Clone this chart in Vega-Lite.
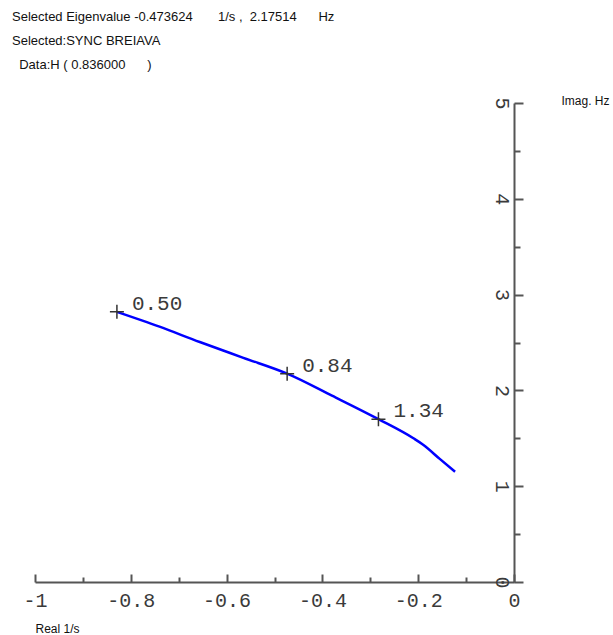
{
  "$schema": "https://vega.github.io/schema/vega-lite/v6.json",
  "width": 479,
  "height": 479,
  "autosize": "none",
  "padding": {"left": 35, "top": 103, "right": 99, "bottom": 53},
  "background": "white",
  "title": {
    "text": "Selected Eigenvalue -0.473624\u00a0\u00a0\u00a0\u00a0\u00a0\u00a0\u00a01/s ,\u00a0\u00a02.17514\u00a0\u00a0\u00a0\u00a0\u00a0\u00a0Hz",
    "subtitle": ["Selected:SYNC BREIAVA", "\u200b\u00a0\u00a0Data:H ( 0.836000\u00a0\u00a0\u00a0\u00a0\u00a0\u00a0)"],
    "anchor": "start",
    "frame": "group",
    "dx": -23,
    "offset": 22,
    "font": "Liberation Sans",
    "fontSize": 13,
    "fontWeight": "normal",
    "color": "#111",
    "subtitleFont": "Liberation Sans",
    "subtitleFontSize": 13,
    "subtitleColor": "#111",
    "subtitlePadding": 11,
    "subtitleLineHeight": 24
  },
  "datasets": {
    "locus": [
      {"re": -0.829, "im": 2.82},
      {"re": -0.74, "im": 2.665},
      {"re": -0.656, "im": 2.505},
      {"re": -0.565, "im": 2.34},
      {"re": -0.4736, "im": 2.175},
      {"re": -0.38, "im": 1.945},
      {"re": -0.283, "im": 1.70},
      {"re": -0.21, "im": 1.50},
      {"re": -0.189, "im": 1.43},
      {"re": -0.155, "im": 1.285},
      {"re": -0.123, "im": 1.15}
    ],
    "marks": [
      {"re": -0.829, "im": 2.82, "label": "0.50"},
      {"re": -0.4736, "im": 2.175, "label": "0.84"},
      {"re": -0.283, "im": 1.70, "label": "1.34"}
    ]
  },
  "encoding": {
    "x": {
      "field": "re",
      "type": "quantitative",
      "scale": {"domain": [-1, 0], "nice": false, "zero": false},
      "axis": {
        "orient": "bottom",
        "values": [-1, -0.9, -0.8, -0.7, -0.6, -0.5, -0.4, -0.3, -0.2, -0.1, 0],
        "labelExpr": "abs(datum.value * 5 - round(datum.value * 5)) < 0.001 ? toString(datum.value) : ''",
        "tickSize": {"condition": {"test": "abs(datum.value * 5 - round(datum.value * 5)) < 0.001", "value": -8}, "value": -5},
        "labelPadding": 16,
        "labelFont": "Liberation Mono",
        "labelFontSize": 20,
        "labelColor": "#3a3a3a",
        "labelFlush": false,
        "labelOverlap": false,
        "grid": false,
        "domainColor": "#555",
        "domainWidth": 2,
        "tickColor": "#555",
        "tickWidth": 2,
        "title": "Real 1/s",
        "titleFont": "Liberation Sans",
        "titleFontSize": 12,
        "titleFontWeight": "normal",
        "titleColor": "#111",
        "titleAnchor": "start",
        "titleAlign": "left",
        "titleBaseline": "alphabetic",
        "titleX": 0,
        "titleY": 50
      }
    },
    "y": {
      "field": "im",
      "type": "quantitative",
      "scale": {"domain": [0, 5], "nice": false, "zero": false},
      "axis": {
        "orient": "left",
        "offset": -479,
        "values": [0, 0.5, 1, 1.5, 2, 2.5, 3, 3.5, 4, 4.5, 5],
        "labelExpr": "datum.value % 1 == 0 ? toString(datum.value) : ''",
        "tickSize": {"condition": {"test": "datum.value % 1 == 0", "value": -9}, "value": -6},
        "labelPadding": 12,
        "labelAngle": 90,
        "labelAlign": "center",
        "labelBaseline": "top",
        "labelFont": "Liberation Mono",
        "labelFontSize": 20,
        "labelColor": "#3a3a3a",
        "labelFlush": false,
        "labelOverlap": false,
        "grid": false,
        "domainColor": "#555",
        "domainWidth": 2,
        "tickColor": "#555",
        "tickWidth": 2,
        "title": "Imag. Hz",
        "titleFont": "Liberation Sans",
        "titleFontSize": 12,
        "titleFontWeight": "normal",
        "titleColor": "#111",
        "titleAngle": 0,
        "titleAlign": "left",
        "titleBaseline": "alphabetic",
        "titleX": 47,
        "titleY": 1
      }
    }
  },
  "layer": [
    {
      "data": {"name": "locus"},
      "mark": {"type": "line", "color": "#0000ff", "strokeWidth": 2.5, "interpolate": "monotone"}
    },
    {
      "data": {"name": "marks"},
      "mark": {"type": "point", "shape": "M-1,0L1,0M0,-1L0,1", "size": 196, "filled": false, "stroke": "#333", "strokeWidth": 1.5, "opacity": 1}
    },
    {
      "data": {"name": "marks"},
      "mark": {"type": "text", "align": "left", "baseline": "alphabetic", "dx": 15, "dy": -2, "font": "Liberation Mono", "fontSize": 21, "color": "#3a3a3a"},
      "encoding": {"text": {"field": "label", "type": "nominal"}}
    }
  ],
  "config": {"view": {"stroke": null}}
}
